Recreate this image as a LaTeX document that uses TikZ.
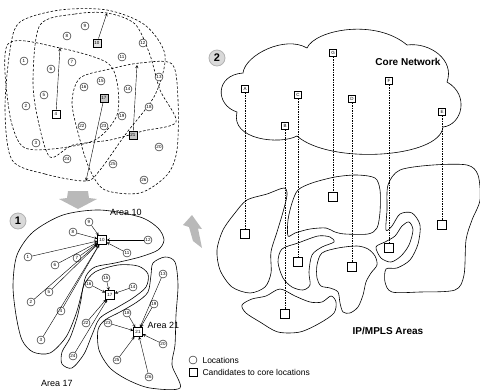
\documentclass[tikz,border=0pt]{standalone}
\usepackage{fontspec}
\setmainfont{Liberation Sans}
\usetikzlibrary{arrows.meta}

\tikzset{
  loc/.style={circle, draw, inner sep=0pt, minimum size=8pt, font=\fontsize{4.5}{5}\selectfont},
  cand/.style={rectangle, draw, inner sep=0pt, minimum size=8.5pt, font=\fontsize{4.5}{5}\selectfont},
  core/.style={rectangle, draw, inner sep=0pt, minimum size=7pt, font=\fontsize{4.5}{5}\selectfont},
  site/.style={rectangle, draw, inner sep=0pt, minimum size=9pt},
  zone/.style={dashed, line width=0.6pt, dash pattern=on 2.5pt off 1.8pt},
  area/.style={line width=0.6pt},
  link/.style={-stealth, line width=0.4pt},
  dashln/.style={line width=0.6pt, dash pattern=on 1.5pt off 1pt},
  badge/.style={circle, fill=gray!30, draw=gray!60, line width=0.8pt, minimum size=16pt, inner sep=0pt, font=\bfseries\fontsize{11}{12}\selectfont},
  lbl/.style={font=\fontsize{9}{10}\selectfont},
  title/.style={font=\bfseries\fontsize{10}{11}\selectfont}
}

\begin{document}
\begin{tikzpicture}[x=1pt,y=-1pt]
\useasboundingbox (0,0) rectangle (480,389);

% --- AREE SOVRAPPOSTE (in alto a sinistra) ---
\draw[zone] plot[smooth cycle] coordinates {(8,44) (60,48) (106,62) (117,82) (117,115) (95,140) (52,149) (22,146) (9,110)};
\draw[zone] plot[smooth cycle] coordinates {(40,25) (75,14) (107,13) (135,24) (150,55) (160,90) (176,122) (143,131) (110,140) (73,145) (50,157) (38,120) (33,80)};
\draw[zone] plot[smooth cycle] coordinates {(86,181) (45,174) (12,160) (5,110) (10,50) (20,22) (60,10) (107,10) (145,25) (165,55) (155,95) (125,135) (100,170)};
\draw[zone] plot[smooth cycle] coordinates {(110,69) (140,63) (172,64) (178,100) (177,150) (167,175) (140,193) (105,190) (90,170) (80,140) (72,103) (80,78)};

\foreach \n/\x/\y in {1/24/61,2/26/106,3/36/143,5/44/95,6/51/69,7/72/62,8/67/36,9/85/26,11/122/57,12/143/43,13/159/77,14/128/89,15/101/81,16/84/87,18/149/107,19/122/116,20/159/147,22/82/126,23/104/126,24/67/159,25/113/164,26/144/180}
  \node[loc, fill=white] (t\n) at (\x,\y) {\n};
\node[cand, fill=white] (t4) at (56,114) {4};
\node[cand, fill=gray!20] (t10) at (97,43) {10};
\node[cand, fill=gray!45] (t17) at (104,98) {17};
\node[cand, fill=gray!45] (t21) at (133,135) {21};

\coordinate (e4) at (60,48);
\coordinate (e10) at (107,13);
\coordinate (e17) at (86,181);
\coordinate (e21) at (137,65);
\foreach \s in {4,10,17,21}
  \draw[link] (t\s) -- (e\s);

% --- FRECCIA ---
\fill[gray!55] (68,191) -- (88,191) -- (89,198) -- (97,199) -- (78,209) -- (59,199) -- (67,198) -- cycle;

% --- PASSO 1: AREE ---
\node[badge] (one) at (18,221) {1};

\draw[area] plot[smooth cycle] coordinates {(63,215) (100,210) (140,217) (158,228) (164,240) (158,250) (140,257) (115,263) (95,267) (86,276) (82,292) (76,314) (66,337) (50,353) (33,352) (22,340) (16,315) (13,285) (17,255) (33,232)};
\draw[area] plot[smooth cycle] coordinates {(84,285) (95,272) (118,265) (138,266) (148,274) (146,287) (133,298) (118,307) (100,318) (92,335) (84,354) (72,368) (62,364) (62,352) (70,338) (77,318) (81,300)};
\draw[area] plot[smooth cycle] coordinates {(153,263) (165,257) (175,262) (178,285) (176,315) (175,345) (172,365) (180,388) (150,388) (128,380) (110,368) (99,350) (98,330) (105,320) (120,312) (137,302) (148,292) (151,275)};

\foreach \n/\x/\y in {1/28/257,2/31/302,3/41/340,4/61/311,5/49/292,6/55/265,7/77/258,8/73/232,9/89/222,11/127/253,12/148/240,13/163/274,14/133/287,15/106/278,16/89/284,18/127/313,19/154/304,20/163/344,22/86/323,23/108/323,24/73/356,25/117/360,26/149/377}
  \node[loc] (b\n) at (\x,\y) {\n};
\node[cand, line width=0.8pt] (b10) at (102,240) {10};
\node[cand, line width=0.8pt] (b17) at (110,295) {17};
\node[cand, line width=0.8pt] (b21) at (138,332) {21};

\foreach \s in {1,2,3,4,5,6,7,8,9,11,12}
  \draw[link] (b\s) -- (b10);
\foreach \s in {14,15,16,22,24}
  \draw[link] (b\s) -- (b17);
\foreach \s in {13,18,19,20,23,25,26}
  \draw[link] (b\s) -- (b21);

\node[lbl] (a10) at (126,212) {Area 10};
\node[lbl] (a17) at (57,383) {Area 17};
\node[lbl, anchor=west] (a21) at (144,325) {Area 21};

% --- FRECCIA VERSO IL PASSO 2 ---
\fill[gray!55] (192,215) -- (202,229) -- (198,228.5) -- (202,248) -- (193,241) -- (189,227) -- (183,225) -- cycle;

% --- PASSO 2: CORE NETWORK ---
\node[badge] (two) at (217,58) {2};

\draw[area] (243,73) .. controls (245,55) and (285,35) .. (307,48)
  .. controls (315,30) and (375,18) .. (407,45)
  .. controls (430,42) and (455,60) .. (447,82)
  .. controls (470,95) and (462,125) .. (443,127)
  .. controls (440,158) and (330,165) .. (297,136)
  .. controls (280,145) and (230,140) .. (237,112)
  .. controls (215,105) and (215,75) .. cycle;
\node[title] (corenet) at (408,62) {Core Network};

% --- AREE IP/MPLS ---
\draw[area] plot[smooth cycle] coordinates {(247,200) (267,194) (284,188) (287,195) (283,212) (277,232) (271,252) (271,273) (265,287) (250,293) (232,287) (220,270) (217,250) (223,230) (235,213)};
\draw[area] plot[smooth cycle] coordinates {(292,203) (298,190) (312,183) (335,177) (357,175) (375,178) (380,190) (380,212) (377,228) (368,234) (345,234) (335,232) (326,228) (310,229) (295,233) (288,236) (288,220)};
\draw[area] plot[smooth cycle] coordinates {(278,262) (282,249) (298,243) (318,236) (330,237) (334,242) (322,247) (312,255) (309,272) (310,285) (303,290) (292,287) (283,278)};
\draw[area] plot[smooth cycle] coordinates {(317,265) (322,253) (338,248) (357,246) (368,249) (375,256) (377,265) (371,273) (366,282) (363,295) (358,307) (350,313) (343,312) (340,303) (338,292) (330,288) (321,286) (317,278)};
\draw[area] plot[smooth cycle] coordinates {(242,305) (252,299) (266,296) (280,289) (295,296) (310,302) (322,302) (331,296) (336,302) (334,313) (320,323) (300,332) (278,332) (260,322) (246,313)};
\draw[area] plot[smooth cycle] coordinates {(376,247) (385,242) (395,236) (402,226) (409,222) (413,230) (409,245) (401,256) (391,262) (381,258)};
\draw[area] plot[smooth cycle] coordinates {(388,185) (400,170) (433,165) (467,165) (478,175) (480,200) (472,220) (466,240) (464,275) (455,290) (420,292) (392,292) (385,282) (386,269) (397,268) (410,260) (418,244) (420,225) (412,213) (400,214) (392,226) (386,230) (387,210)};

\foreach \n/\x/\y in {A/245/89,B/285/126,C/298/95,D/352/99,E/442/112,F/389/81,G/333/53}
  \node[core, fill=white] (c\n) at (\x,\y) {\n};
\foreach \n/\x/\y in {A/245/234,B/285/314,C/298/262,D/352/267,E/442/225,F/389/248,G/333/197}
  \node[site, fill=white] (s\n) at (\x,\y) {};
\foreach \n in {A,B,C,D,E,F,G}
  \draw[dashln] (c\n) -- (s\n);

\node[title] (ipmpls) at (388,331) {IP/MPLS Areas};

% --- LEGENDA ---
\node[loc] (legloc) at (193,360) {};
\node[lbl, anchor=west, font=\fontsize{8.5}{9}\selectfont] (legloctxt) at (199,360) {Locations};
\node[cand, minimum size=8pt] (legcand) at (193,372) {};
\node[lbl, anchor=west, font=\fontsize{8.5}{9}\selectfont] (legcandtxt) at (199,372) {Candidates to core locations};

\end{tikzpicture}
\end{document}
